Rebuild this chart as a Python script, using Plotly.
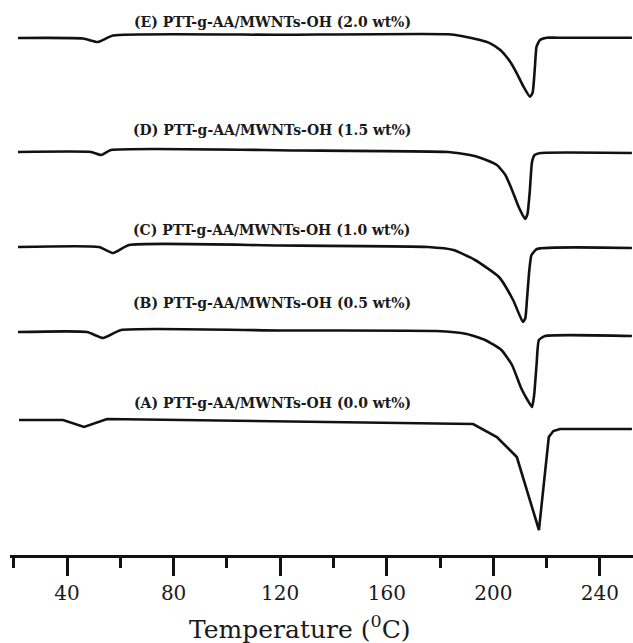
import plotly.graph_objects as go

# DSC heating curves (endotherm down). Heat flow in arbitrary units, relative to each curve's start.
labels = [
    "(E) PTT-g-AA/MWNTs-OH (2.0 wt%)",
    "(D) PTT-g-AA/MWNTs-OH (1.5 wt%)",
    "(C) PTT-g-AA/MWNTs-OH (1.0 wt%)",
    "(B) PTT-g-AA/MWNTs-OH (0.5 wt%)",
    "(A) PTT-g-AA/MWNTs-OH (0.0 wt%)",
]
offsets = [51.7, 40.3, 30.8, 22.3, 13.5]
label_heights = [53.3, 42.5, 32.5, 25.2, 15.2]

temp_E = [21.6, 46.0, 51.6, 57.3, 120, 183, 188, 195.0, 198.8, 202.6, 206.3, 208.8, 211.3, 213.7, 214.7, 215.6, 216.2, 217.5, 220.0, 224.2, 252]
hf_E = [0, -0.05, -0.4, 0.25, 0.32, 0.37, 0.2, -0.2, -0.53, -1.2, -2.37, -3.53, -4.87, -5.87, -5.5, -2.87, -0.87, -0.2, 0.03, 0.03, 0.03]

temp_D = [21.6, 49.0, 52.8, 56.5, 127.5, 183, 191.2, 195.3, 201.3, 204.5, 207.0, 209.5, 211.9, 212.8, 213.7, 214.5, 215.5, 217.9, 252]
hf_D = [0, 0, -0.3, 0.2, 0.15, 0, -0.3, -0.6, -1.3, -2.3, -3.8, -5.5, -6.7, -6.2, -3.8, -1.0, -0.3, -0.1, -0.1]

temp_C = [21.6, 52.0, 57.3, 63.3, 120, 175.5, 185, 193.1, 202.1, 207.4, 211.1, 212.0, 212.6, 213.5, 214.3, 216.4, 252]
hf_C = [0, 0, -0.6, 0.2, 0.15, 0, -0.3, -1.3, -3.0, -5.3, -7.5, -7.1, -5.3, -2.3, -0.8, -0.2, -0.1]

temp_B = [21.6, 47.5, 53.5, 60.3, 120, 178.5, 190, 196.9, 203, 207, 210.4, 212.8, 214.5, 215.3, 216.2, 217.1, 219.4, 252]
hf_B = [0, 0, -0.6, 0.2, 0.15, 0.1, -0.2, -0.8, -1.8, -3.3, -5.6, -6.8, -7.5, -6.3, -3.3, -0.8, -0.4, -0.4]

temp_A = [22.0, 38.5, 46.4, 55.0, 192.4, 201.3, 208.8, 217.1, 220.8, 222.5, 225.0, 252]
hf_A = [0, 0, -0.7, 0.1, -0.4, -1.7, -3.7, -11.0, -1.7, -1.1, -0.9, -0.9]

temps = [temp_E, temp_D, temp_C, temp_B, temp_A]
hfs = [hf_E, hf_D, hf_C, hf_B, hf_A]
shapes = ["spline", "spline", "spline", "spline", "linear"]

x_ticks = [40, 80, 120, 160, 200, 240]
x_title = "Temperature (<sup>0</sup>C)"

fig = go.Figure()
for t, h, off, shp in zip(temps, hfs, offsets, shapes):
    line = dict(color="#111111", width=2.6, shape=shp)
    if shp == "spline":
        line["smoothing"] = 0.5
    fig.add_trace(go.Scatter(x=t, y=[off + v for v in h], mode="lines", line=line,
                             showlegend=False, hoverinfo="skip"))

for lab, yh in zip(labels, label_heights):
    fig.add_annotation(x=117, y=yh, text="<b>" + lab + "</b>", showarrow=False,
                       xanchor="center", yanchor="middle",
                       font=dict(family="DejaVu Serif", size=14, color="#1a1a1a"))

# axis title placed below the tick labels
fig.add_annotation(x=0.465, y=-0.13, xref="paper", yref="paper", text=x_title, showarrow=False,
                   xanchor="center", yanchor="middle",
                   font=dict(family="DejaVu Serif", size=25, color="#1a1a1a"))

fig.update_layout(
    width=633, height=643,
    margin=dict(l=10, r=0, t=0, b=88),
    paper_bgcolor="white", plot_bgcolor="white",
    xaxis=dict(
        range=[18.6, 252.4], showgrid=False, zeroline=False,
        showline=True, linecolor="#111111", linewidth=3,
        tickmode="array", tickvals=x_ticks, ticktext=[str(v) for v in x_ticks],
        ticks="outside", ticklen=18, tickwidth=3, tickcolor="#111111",
        tickfont=dict(family="DejaVu Serif", size=20, color="#1a1a1a"),
        minor=dict(tickmode="array", tickvals=[20, 60, 100, 140, 180, 220], ticks="outside",
                   ticklen=10, tickwidth=3, tickcolor="#111111"),
    ),
    yaxis=dict(range=[0, 55.5], visible=False),
)

fig.write_html("out.html")
